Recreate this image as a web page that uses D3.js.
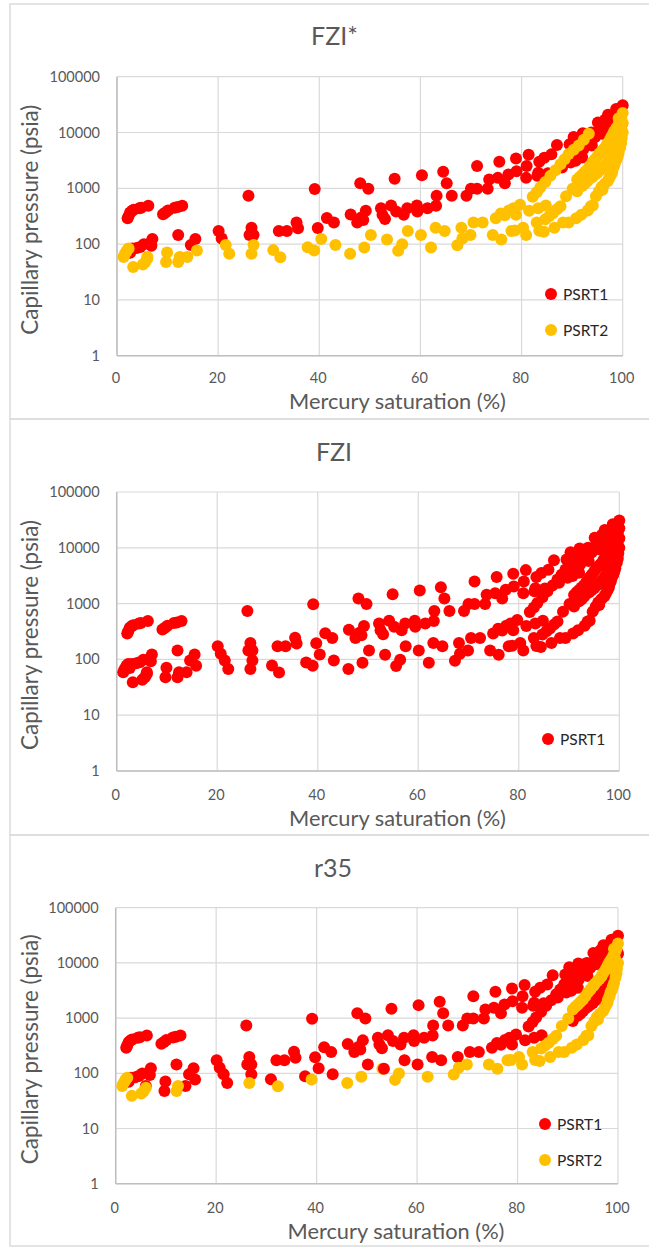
<!DOCTYPE html>
<html>
<head>
<meta charset="utf-8">
<script src="https://d3js.org/d3.v7.min.js"></script>
<style>
  html, body { margin: 0; padding: 0; background: #fff; }
  svg { display: block; }
  text { font-family: Lato, "Open Sans", sans-serif; }
</style>
</head>
<body>
<div id="chart-area"></div>
<script>
// Tick labels
const xTicks = [0, 20, 40, 60, 80, 100]
const yTicks = [1, 10, 100, 1000, 10000, 100000]
const chartTitles = ["FZI*", "FZI", "r35"]

// Red in every panel [saturation %, pressure psia]
const upperPts = [
  [2.1, 291], [2.3, 320], [2.6, 368], [3, 395], [3.3, 411], [4.4, 441], [4.8, 450], [6.2, 486],
  [9.1, 343], [9.6, 370], [10.1, 400], [11.4, 447], [12, 460], [12.9, 486], [12.1, 145],
  [7, 123], [6.8, 93], [6.6, 105], [5.3, 99], [4.6, 89], [3.9, 85], [3, 83], [2.6, 70],
  [14.6, 96], [15.5, 123], [20.1, 172], [20.7, 126],
  [26, 736], [26.6, 197], [26.2, 145], [27, 145],
  [32, 172], [33.6, 172], [35.5, 245], [35.8, 192],
  [39.1, 973], [39.7, 195], [41.5, 295], [42.9, 243],
  [46.2, 339], [47.5, 243], [48.1, 1230], [48.3, 299], [49.2, 395], [49.7, 986], [48.7, 270],
  [52.2, 441], [52.5, 334], [53, 283], [54.2, 491], [55.2, 384], [54.9, 1476],
  [56.7, 334], [57.4, 441], [59.3, 491], [59.4, 384], [60.3, 1718], [61.4, 441],
  [63.1, 486], [63.2, 736], [64.5, 1972], [65.2, 1230], [66.2, 736], [69.1, 736],
  [70, 986], [71.2, 986], [71.2, 2500], [73.3, 986], [73.6, 1436], [75.3, 1538], [75.6, 2990],
  [76.7, 1230], [77.4, 1766], [79, 2028], [78.9, 3433], [80.9, 1538], [81, 2500], [81.4, 3981],
  [83.1, 1670], [83.3, 1892], [83.5, 2990], [84.5, 3532], [85.2, 1860], [85.9, 4055], [87, 5984],
  [88, 2360], [89.5, 6166], [89.7, 2900], [90.3, 8318], [90.7, 3120], [91, 4300], [92, 3560], [92.1, 9727],
  [92.2, 5000], [93, 6300], [93.8, 10000], [93.9, 5820], [94.5, 8200], [95.1, 15135], [95.5, 12000],
  [95.9, 9460], [96.5, 17000], [96.9, 14350], [97.1, 20893], [97.5, 12000], [98, 16000],
  [98.7, 26300], [98.9, 21700], [99, 19000], [99.5, 24000], [99.9, 14350], [100, 30900]
]

// Gold under FZI*, red under r35
const midPts = [
  [6, 59], [9.9, 71], [9.7, 48], [13.9, 59], [15.8, 77], [21.5, 96], [22.2, 67], [27, 96],
  [30.9, 78], [37.7, 88], [40.4, 123], [43.2, 96], [50.2, 145], [53.4, 121], [57.5, 172],
  [60.1, 145], [63, 197], [64.8, 172], [68.1, 197], [70.5, 243], [72.3, 243],
  [74.9, 291], [75.9, 355], [76.7, 330], [77.5, 400], [78.4, 440], [78.9, 334], [79.7, 507],
  [81.5, 395], [83.3, 441], [84.8, 491],
  [82.2, 707], [83, 850], [83.7, 1030], [84.7, 1300], [85.7, 1670], [86.7, 2100], [87.7, 2700],
  [88.5, 3300], [89.3, 4100], [90.3, 4900], [91.3, 5820], [92.3, 7400], [93.3, 9460],
  [91, 883], [92, 1100], [92.5, 1200], [93, 1336], [93.5, 1500], [94, 1600], [94.5, 1750], [95, 1885],
  [95.5, 2100], [96, 2300], [96.5, 2600], [97, 2850], [97.2, 3100], [97.5, 3400], [97.8, 3700],
  [98, 3980], [98.3, 4600], [98.7, 5500], [99, 6500], [99.3, 7940], [99.5, 9500], [99.7, 11000], [100, 14800]
]

// Gold under both FZI* and r35
const lowPts = [
  [1.3, 59], [1.5, 65], [1.8, 72], [2, 78], [2.3, 83], [3.2, 39], [5.1, 43], [5.6, 48], [6, 55],
  [12.1, 48], [12.4, 59], [26.6, 67], [32.3, 58], [39, 77], [46.1, 67], [48.9, 87],
  [55.6, 76], [56.4, 99], [62.1, 87], [67.3, 95], [68.3, 126], [69.9, 145], [74.3, 145], [76, 121],
  [78, 172], [78.7, 175], [80.3, 197], [80.9, 145], [83, 243], [83.5, 174], [84.4, 167],
  [86.5, 197], [88.2, 243], [89.3, 243], [90.8, 291], [91.8, 334], [93.1, 400], [93.7, 477], [94.1, 491],
  [94.7, 718], [95.3, 880], [95.8, 1050], [96, 946], [96.4, 1200], [97, 1336], [97.3, 1500], [97.6, 1700],
  [97.9, 1900], [98, 2160], [98.3, 2500], [98.5, 2900], [98.8, 3300], [99, 3760], [99.2, 4300], [99.5, 5400],
  [99.7, 6460], [99.8, 8000], [100, 10000],
  [84.7, 280], [85.5, 320], [86.2, 358], [87, 420], [87.7, 477], [88.8, 718], [90.1, 986], [91, 1432],
  [91.5, 1600], [92, 1750], [92.5, 1950], [93, 2160], [93.5, 2500], [94, 2900], [94.5, 3300], [95, 3760],
  [95.4, 4200], [95.9, 4700], [96.3, 5100], [96.7, 5690], [97, 6400], [97.4, 7200], [97.7, 8100], [98, 9120],
  [98.3, 10400], [98.6, 8000], [98.7, 11800], [99, 13000], [99, 9500], [99.3, 14800], [99.4, 12000],
  [99.5, 16500], [99.2, 18000], [99.7, 18500], [100, 22400]
]

// Gold points the r35 reds sit on top of
const r35UnderPts = [[4.8, 90], [21.3, 100], [53.1, 121]]

const panels = [
  { title: chartTitles[0], top: 4, bottom: 419, left: 117, right: 622.7, plotTop: 76.7, plotBottom: 355.7, titleX: 334.5, titleY: 45, tickY: 383, labelX: 397.5, labelY: 409,
    layers: [[upperPts, "#ff0000"], [midPts, "#ffc000"], [lowPts, "#ffc000"]],
    legend: [["PSRT1", "#ff0000", 551, 294], ["PSRT2", "#ffc000", 551, 330]] },
  { title: chartTitles[1], top: 419, bottom: 835, left: 116.7, right: 619.3, plotTop: 492, plotBottom: 771, titleX: 334, titleY: 461, tickY: 800, labelX: 397.5, labelY: 826,
    layers: [[upperPts, "#ff0000"], [midPts, "#ff0000"], [lowPts, "#ff0000"]],
    legend: [["PSRT1", "#ff0000", 548, 739]] },
  { title: chartTitles[2], top: 835, bottom: 1246, left: 115.7, right: 618, plotTop: 907.7, plotBottom: 1183.7, titleX: 333, titleY: 877, tickY: 1213, labelX: 396, labelY: 1239,
    layers: [[r35UnderPts, "#ffc000"], [midPts, "#ff0000"], [upperPts, "#ff0000"], [lowPts, "#ffc000"]],
    legend: [["PSRT1", "#ff0000", 545, 1124], ["PSRT2", "#ffc000", 545, 1160]] }
]

const svg = d3.select("#chart-area").append("svg")
  .attr("width", 649)
  .attr("height", 1247)

panels.forEach(p => {
  const g = svg.append("g")

  // outer frame, open on the right side
  g.append("path")
    .attr("d", `M649,${p.top}H10V${p.bottom}H649`)
    .attr("fill", "none")
    .attr("stroke", "#dcdcdc")
    .attr("stroke-width", 1.5)

  // Scales
  const x = d3.scaleLinear().domain([0, 100]).range([p.left, p.right])
  const y = d3.scaleLog().domain([1, 100000]).range([p.plotBottom, p.plotTop])

  // Grid
  g.append("g").selectAll("line").data(xTicks).enter().append("line")
    .attr("x1", d => x(d)).attr("x2", d => x(d))
    .attr("y1", p.plotTop).attr("y2", p.plotBottom)
    .attr("stroke", "#d9d9d9").attr("stroke-width", 1.2)
  g.append("g").selectAll("line").data(yTicks).enter().append("line")
    .attr("x1", p.left).attr("x2", p.right)
    .attr("y1", d => y(d)).attr("y2", d => y(d))
    .attr("stroke", "#d9d9d9").attr("stroke-width", 1.2)

  // axis baseline is a little darker than the grid
  g.append("line")
    .attr("x1", p.left).attr("x2", p.left)
    .attr("y1", p.plotTop).attr("y2", p.plotBottom)
    .attr("stroke", "#bfbfbf").attr("stroke-width", 1.5)
  g.append("line")
    .attr("x1", p.left).attr("x2", p.right)
    .attr("y1", p.plotBottom).attr("y2", p.plotBottom)
    .attr("stroke", "#bfbfbf").attr("stroke-width", 1.5)

  // Tick labels
  g.append("g").selectAll("text").data(xTicks).enter().append("text")
    .attr("x", d => x(d) - 1)
    .attr("y", p.tickY)
    .attr("text-anchor", "middle")
    .attr("font-size", "14.5px")
    .attr("fill", "#595959")
    .text(d => d)
  g.append("g").selectAll("text").data(yTicks).enter().append("text")
    .attr("x", p.left - 17)
    .attr("y", d => y(d) + 5)
    .attr("text-anchor", "end")
    .attr("font-size", "14.5px")
    .attr("fill", "#595959")
    .text(d => d)

  // Labels
  g.append("text")
    .attr("x", p.titleX)
    .attr("y", p.titleY)
    .attr("text-anchor", "middle")
    .attr("font-size", "25px")
    .attr("fill", "#595959")
    .text(p.title)
  g.append("text")
    .attr("x", p.labelX)
    .attr("y", p.labelY)
    .attr("text-anchor", "middle")
    .attr("font-size", "21.8px")
    .attr("fill", "#595959")
    .text("Mercury saturation (%)")
  g.append("text")
    .attr("transform", `translate(38, ${(p.plotTop + p.plotBottom) / 2 + 3.5}) rotate(-90)`)
    .attr("text-anchor", "middle")
    .attr("font-size", "22.4px")
    .attr("fill", "#595959")
    .text("Capillary pressure (psia)")

  // Points
  p.layers.forEach(layer => {
    g.append("g").selectAll("circle").data(layer[0]).enter().append("circle")
      .attr("cx", d => x(d[0]))
      .attr("cy", d => y(d[1]))
      .attr("r", 6)
      .attr("fill", layer[1])
  })

  // Legend
  const legend = g.selectAll(".legend").data(p.legend).enter().append("g")
    .attr("class", "legend")
  legend.append("circle")
    .attr("cx", d => d[2])
    .attr("cy", d => d[3])
    .attr("r", 6)
    .attr("fill", d => d[1])
  legend.append("text")
    .attr("x", d => d[2] + 12)
    .attr("y", d => d[3] + 6)
    .attr("font-size", "15.5px")
    .attr("fill", "#262626")
    .text(d => d[0])
})
</script>
</body>
</html>
